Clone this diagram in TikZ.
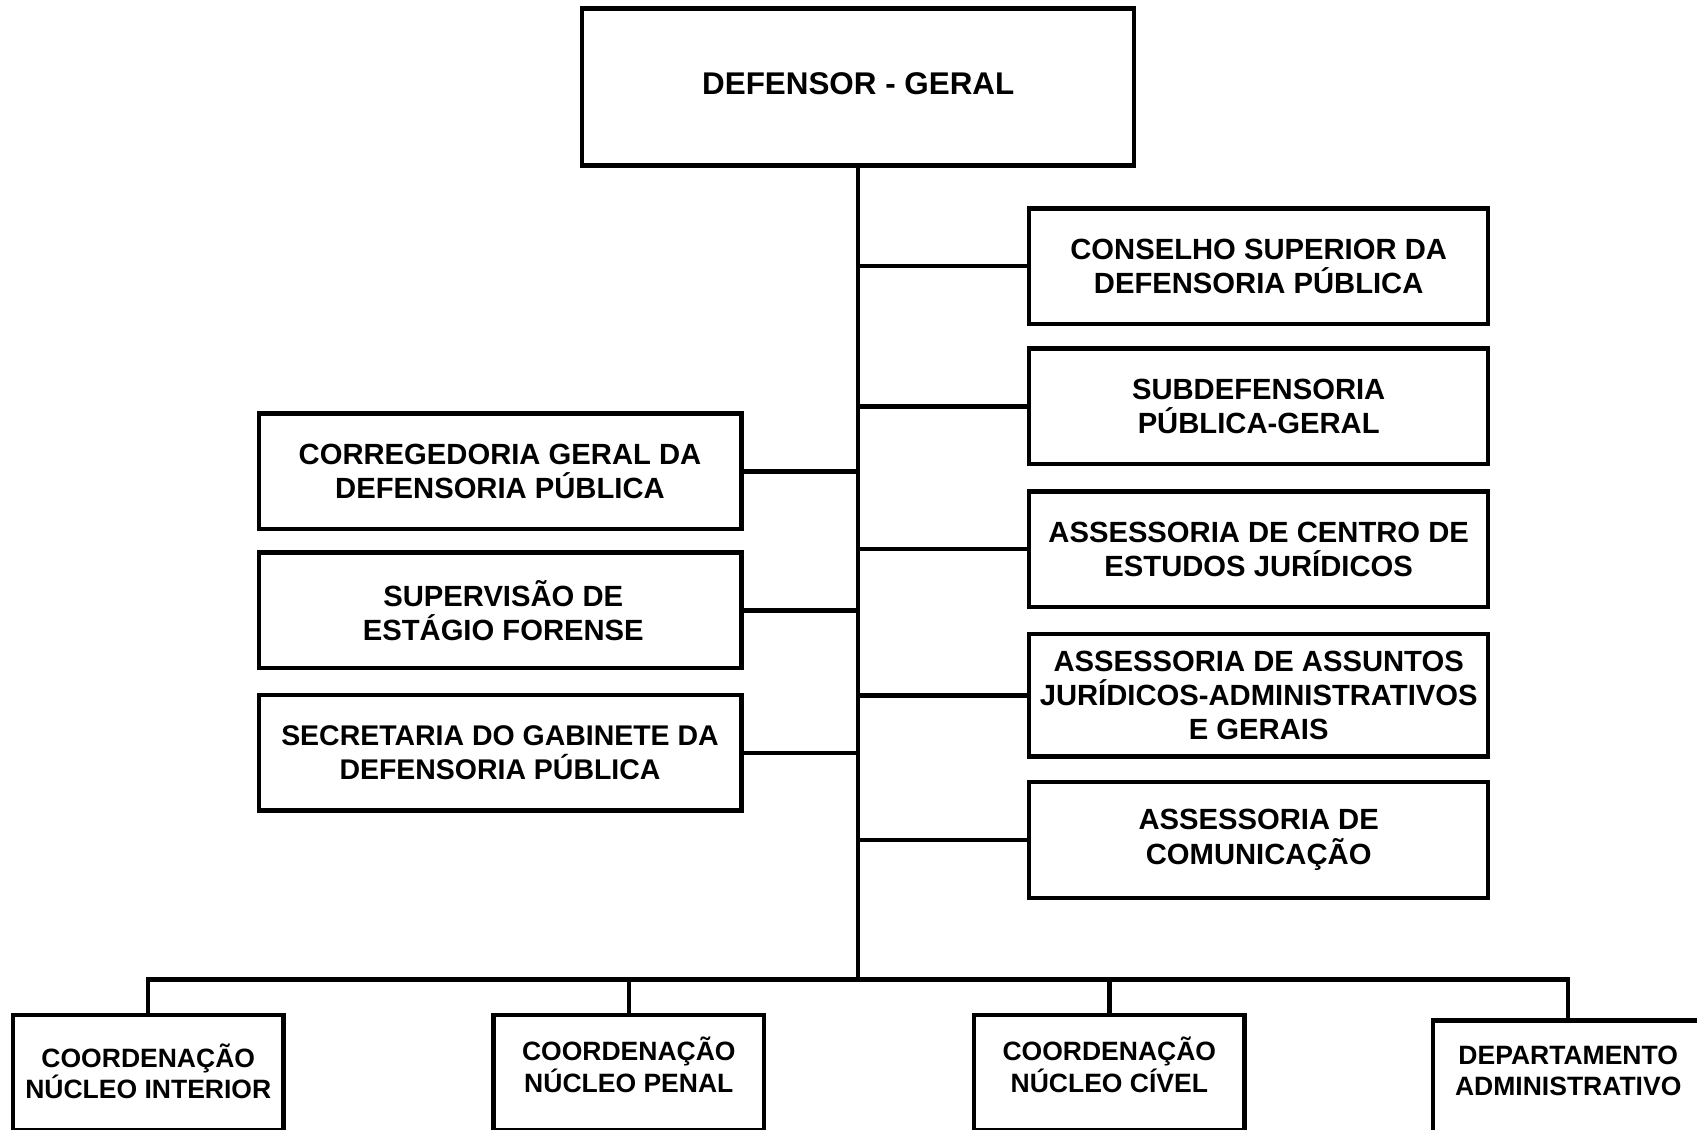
\documentclass[tikz,border=0pt]{standalone}
\usepackage{fontspec}
\setmainfont{Liberation Sans}
\begin{document}
\begin{tikzpicture}[x=1pt,y=-1pt,
  box/.style={draw, line width=4pt, rectangle, align=center, inner sep=0pt,
    font=\fontsize{27}{31.5}\selectfont\bfseries},
  rbox/.style={box, minimum width=424, minimum height=107},
  lbox/.style={box, minimum width=446, minimum height=107},
  bbox/.style={draw, line width=4pt, rectangle, inner sep=0pt, anchor=north, minimum width=250},
  btext/.style={align=center, inner sep=0pt, font=\fontsize{24.5}{29}\selectfont\bfseries},
  conn/.style={line width=4pt, line cap=rect}]
\useasboundingbox (0,0) rectangle (1568,1044);
\fill[white] (0,0) rectangle (1568,1044);
% top
\node[draw, line width=4pt, minimum width=510, minimum height=145] (top) at (793,80.5) {};
\node[font=\fontsize{29}{34}\selectfont\bfseries, inner sep=0pt] (topt) at (793,77) {DEFENSOR - GERAL};
\coordinate (tb) at (793,905);
% right
\node[rbox] (cons) at (1163,246) {CONSELHO SUPERIOR DA\\DEFENSORIA PÚBLICA};
\node[rbox] (sub) at (1163,375.5) {SUBDEFENSORIA\\PÚBLICA-GERAL};
\node[rbox] (cej) at (1163,507.5) {ASSESSORIA DE CENTRO DE\\ESTUDOS JURÍDICOS};
\node[rbox, minimum height=113] (aja) at (1163,642.5) {ASSESSORIA DE ASSUNTOS\\JURÍDICOS-ADMINISTRATIVOS\\E GERAIS};
\node[rbox] (com) at (1163,776) {ASSESSORIA DE\\COMUNICAÇÃO};
% left
\node[lbox] (cor) at (462,435.5) {CORREGEDORIA GERAL DA\\DEFENSORIA PÚBLICA};
\node[lbox] (sup) at (462,564) {\hspace*{6pt}SUPERVISÃO DE\\\hspace*{6pt}ESTÁGIO FORENSE};
\node[lbox, font=\fontsize{26.3}{31.5}\selectfont\bfseries] (sec) at (462,695.5) {SECRETARIA DO GABINETE DA\\DEFENSORIA PÚBLICA};
% bottom
\node[bbox, minimum height=106] (int) at (137,936) {};
\node[bbox, minimum height=106] (pen) at (581,936) {};
\node[bbox, minimum height=106] (civ) at (1025,936) {};
\node[bbox, minimum height=130] (dep) at (1449,941) {};
\node[btext] (intt) at (137,990) {COORDENAÇÃO\\NÚCLEO INTERIOR};
\node[btext] (pent) at (581,984) {COORDENAÇÃO\\NÚCLEO PENAL};
\node[btext] (civt) at (1025,984) {COORDENAÇÃO\\NÚCLEO CÍVEL};
\node[btext] (dept) at (1449,989.5) {DEPARTAMENTO\\ADMINISTRATIVO};
% connectors
\draw[conn] (top.south) -- (tb);
\foreach \n in {cons,sub,cej,aja,com}{\draw[conn] (\n.west) -- (\n.west -| tb);}
\foreach \n in {cor,sup,sec}{\draw[conn] (\n.east) -- (\n.east -| tb);}
\draw[conn] (int.north) |- (tb) -| (dep.north);
\draw[conn] (pen.north) -- (pen.north |- tb);
\draw[conn] (civ.north) -- (civ.north |- tb);
\end{tikzpicture}
\end{document}
